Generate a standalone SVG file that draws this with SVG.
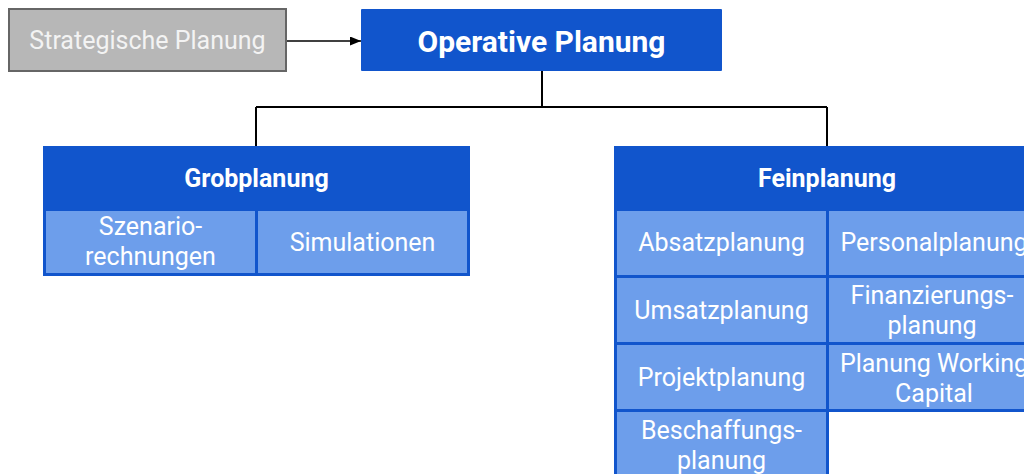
<svg xmlns="http://www.w3.org/2000/svg" width="1024" height="474" viewBox="0 0 1024 474">
<defs>
<style>
text{font-family:Roboto,"Liberation Sans",sans-serif;fill:#fff;text-anchor:middle}
.hd{fill:#1155cc;stroke:#1155cc;stroke-width:2}
.cell{fill:#6d9eeb;stroke:#1155cc;stroke-width:3}
.t{font-size:25px}
.b{font-size:25px;font-weight:bold}
.con{fill:none;stroke:#000;stroke-width:2}
</style>
<marker id="ah" viewBox="0 0 10 10" refX="10" refY="5" markerWidth="11" markerHeight="9" markerUnits="userSpaceOnUse" orient="auto" preserveAspectRatio="none"><path d="M0,0L10,5L0,10z" fill="#000"/></marker>
</defs>
<rect width="1024" height="474" fill="#fff"/>
<g id="connectors">
<path class="con" d="M287,41H361" marker-end="url(#ah)" style="stroke-width:1.6"/>
<path class="con" d="M542,71V107M256,107H827M256,107V146M827,107V146"/>
</g>
<g id="strategische">
<rect x="9" y="9" width="277" height="62" fill="#b7b7b7" stroke="#666" stroke-width="2"/>
<text class="t" x="147.5" y="48.5" style="fill:#f3f3f3">Strategische Planung</text>
</g>
<g id="operative">
<rect x="361" y="9" width="361" height="62" rx="1" fill="#1155cc"/>
<text x="541.5" y="52" style="font-size:30px;font-weight:bold">Operative Planung</text>
</g>
<g id="grobplanung">
<rect class="hd" x="44" y="147" width="425" height="128"/>
<text class="b" x="256.5" y="187">Grobplanung</text>
<rect class="cell" x="44.5" y="209.5" width="212" height="65"/>
<rect class="cell" x="256.5" y="209.5" width="212" height="65"/>
<text class="t" x="150.5" y="235">Szenario-</text>
<text class="t" x="150.5" y="265">rechnungen</text>
<text class="t" x="362.5" y="251">Simulationen</text>
</g>
<g id="feinplanung">
<rect class="hd" x="615" y="147" width="430" height="63"/>
<text class="b" x="827" y="187">Feinplanung</text>
<rect class="cell" x="615.5" y="209.5" width="212" height="67"/>
<rect class="cell" x="615.5" y="276.5" width="212" height="67"/>
<rect class="cell" x="615.5" y="343.5" width="212" height="67"/>
<rect class="cell" x="615.5" y="410.5" width="212" height="67"/>
<rect class="cell" x="827.5" y="209.5" width="215" height="67"/>
<rect class="cell" x="827.5" y="276.5" width="215" height="67"/>
<rect class="cell" x="827.5" y="343.5" width="215" height="67"/>
<text class="t" x="721.5" y="251">Absatzplanung</text>
<text class="t" x="721.5" y="319">Umsatzplanung</text>
<text class="t" x="721.5" y="386">Projektplanung</text>
<text class="t" x="721.5" y="439">Beschaffungs-</text>
<text class="t" x="721.5" y="469">planung</text>
<text class="t" x="934" y="251">Personalplanung</text>
<text class="t" x="932" y="304">Finanzierungs-</text>
<text class="t" x="932" y="334">planung</text>
<text class="t" x="934" y="372">Planung Working</text>
<text class="t" x="934" y="402">Capital</text>
</g>
</svg>
